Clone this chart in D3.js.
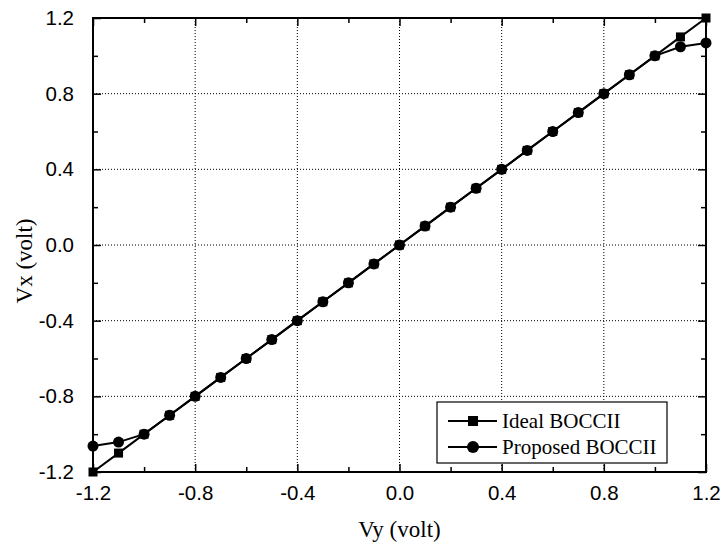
<!DOCTYPE html>
<html>
<head>
<meta charset="utf-8">
<script src="https://cdn.jsdelivr.net/npm/d3@7"></script>
<style>
  body { margin: 0; background: #fff; }
  .tick-label { font-family: "Liberation Sans", Arial, sans-serif; font-size: 20.5px; }
  .axis-title, .legend text { font-family: "Liberation Serif", "Times New Roman", serif; }
</style>
</head>
<body>
<div id="chart"></div>
<script>
// Vx against Vy for the ideal and proposed BOCCII
const width = 722;
const height = 552;
const margin = { top: 18, right: 16, bottom: 80, left: 93 };

const vy = [-1.2, -1.1, -1.0, -0.9, -0.8, -0.7, -0.6, -0.5, -0.4, -0.3, -0.2, -0.1, 0.0,
    0.1, 0.2, 0.3, 0.4, 0.5, 0.6, 0.7, 0.8, 0.9, 1.0, 1.1, 1.2];
const idealVx = [-1.2, -1.1, -1.0, -0.9, -0.8, -0.7, -0.6, -0.5, -0.4, -0.3, -0.2, -0.1, 0.0,
    0.1, 0.2, 0.3, 0.4, 0.5, 0.6, 0.7, 0.8, 0.9, 1.0, 1.1, 1.2];
const proposedVx = [-1.063, -1.042, -1.0, -0.9, -0.8, -0.7, -0.6, -0.5, -0.4, -0.3, -0.2, -0.1, 0.0,
    0.1, 0.2, 0.3, 0.4, 0.5, 0.6, 0.7, 0.8, 0.9, 1.0, 1.048, 1.068];
const majorTicks = [-1.2, -0.8, -0.4, 0.0, 0.4, 0.8, 1.2];
const minorTicks = [-1.0, -0.6, -0.2, 0.2, 0.6, 1.0];

const svg = d3.select("#chart")
    .append("svg")
    .attr("width", width)
    .attr("height", height);

const x = d3.scaleLinear().domain([-1.2, 1.2]).range([margin.left, width - margin.right]);
const y = d3.scaleLinear().domain([-1.2, 1.2]).range([height - margin.bottom, margin.top]);

const fmt = d => d.toFixed(1);

// dotted grid
const grid = svg.append("g");
grid.selectAll("line.gx")
    .data(majorTicks.slice(1, -1))
    .enter().append("line")
    .attr("x1", d => x(d)).attr("x2", d => x(d))
    .attr("y1", y(1.2)).attr("y2", y(-1.2))
    .attr("stroke", "#000").attr("stroke-width", 1)
    .attr("stroke-dasharray", "1,2");
grid.selectAll("line.gy")
    .data(majorTicks.slice(1, -1))
    .enter().append("line")
    .attr("y1", d => y(d)).attr("y2", d => y(d))
    .attr("x1", x(-1.2)).attr("x2", x(1.2))
    .attr("stroke", "#000").attr("stroke-width", 1)
    .attr("stroke-dasharray", "1,2");

// axes with inward ticks on all four sides
function styleAxis(g) {
    g.select(".domain").remove();
    g.selectAll("line").attr("stroke", "#000").attr("stroke-width", 1.5);
}
const bottom = svg.append("g").attr("transform", `translate(0,${y(-1.2)})`)
    .call(d3.axisBottom(x).tickValues(majorTicks).tickFormat(fmt).tickSizeInner(-8).tickPadding(13));
bottom.call(styleAxis);
bottom.selectAll("text").attr("class", "tick-label").attr("font-size", null).attr("font-family", null).attr("fill", "#000");
svg.append("g").attr("transform", `translate(0,${y(-1.2)})`)
    .call(d3.axisBottom(x).tickValues(minorTicks).tickFormat("").tickSizeInner(-5))
    .call(styleAxis);

const left = svg.append("g").attr("transform", `translate(${x(-1.2)},0)`)
    .call(d3.axisLeft(y).tickValues(majorTicks).tickFormat(fmt).tickSizeInner(-8).tickPadding(19));
left.call(styleAxis);
left.selectAll("text").attr("class", "tick-label").attr("font-size", null).attr("font-family", null).attr("fill", "#000");
svg.append("g").attr("transform", `translate(${x(-1.2)},0)`)
    .call(d3.axisLeft(y).tickValues(minorTicks).tickFormat("").tickSizeInner(-5))
    .call(styleAxis);

svg.append("g").attr("transform", `translate(0,${y(1.2)})`)
    .call(d3.axisTop(x).tickValues(majorTicks).tickFormat("").tickSizeInner(-8))
    .call(styleAxis);
svg.append("g").attr("transform", `translate(0,${y(1.2)})`)
    .call(d3.axisTop(x).tickValues(minorTicks).tickFormat("").tickSizeInner(-5))
    .call(styleAxis);
svg.append("g").attr("transform", `translate(${x(1.2)},0)`)
    .call(d3.axisRight(y).tickValues(majorTicks).tickFormat("").tickSizeInner(-8))
    .call(styleAxis);
svg.append("g").attr("transform", `translate(${x(1.2)},0)`)
    .call(d3.axisRight(y).tickValues(minorTicks).tickFormat("").tickSizeInner(-5))
    .call(styleAxis);

// frame
svg.append("rect")
    .attr("x", x(-1.2)).attr("y", y(1.2))
    .attr("width", x(1.2) - x(-1.2)).attr("height", y(-1.2) - y(1.2))
    .attr("fill", "none").attr("stroke", "#000").attr("stroke-width", 2);

// series
const line = d3.line().x(d => x(d[0])).y(d => y(d[1]));
const idealPts = vy.map((v, i) => [v, idealVx[i]]);
const propPts = vy.map((v, i) => [v, proposedVx[i]]);

svg.append("path").datum(idealPts).attr("d", line)
    .attr("fill", "none").attr("stroke", "#000").attr("stroke-width", 2);
svg.append("path").datum(propPts).attr("d", line)
    .attr("fill", "none").attr("stroke", "#000").attr("stroke-width", 2);

svg.append("g").selectAll("rect")
    .data(idealPts)
    .enter().append("rect")
    .attr("x", d => x(d[0]) - 4.5).attr("y", d => y(d[1]) - 4.5)
    .attr("width", 9).attr("height", 9)
    .attr("fill", "#000");
svg.append("g").selectAll("circle")
    .data(propPts)
    .enter().append("circle")
    .attr("cx", d => x(d[0])).attr("cy", d => y(d[1]))
    .attr("r", 5.5)
    .attr("fill", "#000");

// axis titles
svg.append("text").attr("class", "axis-title")
    .attr("x", x(0)).attr("y", 537)
    .attr("text-anchor", "middle").attr("font-size", 23)
    .text("Vy (volt)");
svg.append("text").attr("class", "axis-title")
    .attr("transform", `translate(32,261) rotate(-90)`)
    .attr("text-anchor", "middle").attr("font-size", 23)
    .text("Vx (volt)");

// legend
const legend = svg.append("g").attr("class", "legend");
legend.append("rect")
    .attr("x", 437).attr("y", 402).attr("width", 230).attr("height", 61)
    .attr("fill", "#fff").attr("stroke", "#000").attr("stroke-width", 1.2);
const items = [
    { name: "Ideal BOCCII", shape: "square" },
    { name: "Proposed BOCCII", shape: "circle" }
];
items.forEach((it, i) => {
    const cy = 421 + i * 26;
    legend.append("line")
        .attr("x1", 448).attr("x2", 497).attr("y1", cy).attr("y2", cy)
        .attr("stroke", "#000").attr("stroke-width", 2);
    if (it.shape === "square") {
        legend.append("rect").attr("x", 468).attr("y", cy - 5).attr("width", 10).attr("height", 10).attr("fill", "#000");
    } else {
        legend.append("circle").attr("cx", 473).attr("cy", cy).attr("r", 6).attr("fill", "#000");
    }
    legend.append("text")
        .attr("x", 502).attr("y", cy + 6.5)
        .attr("font-size", 21)
        .text(it.name);
});
</script>
</body>
</html>
